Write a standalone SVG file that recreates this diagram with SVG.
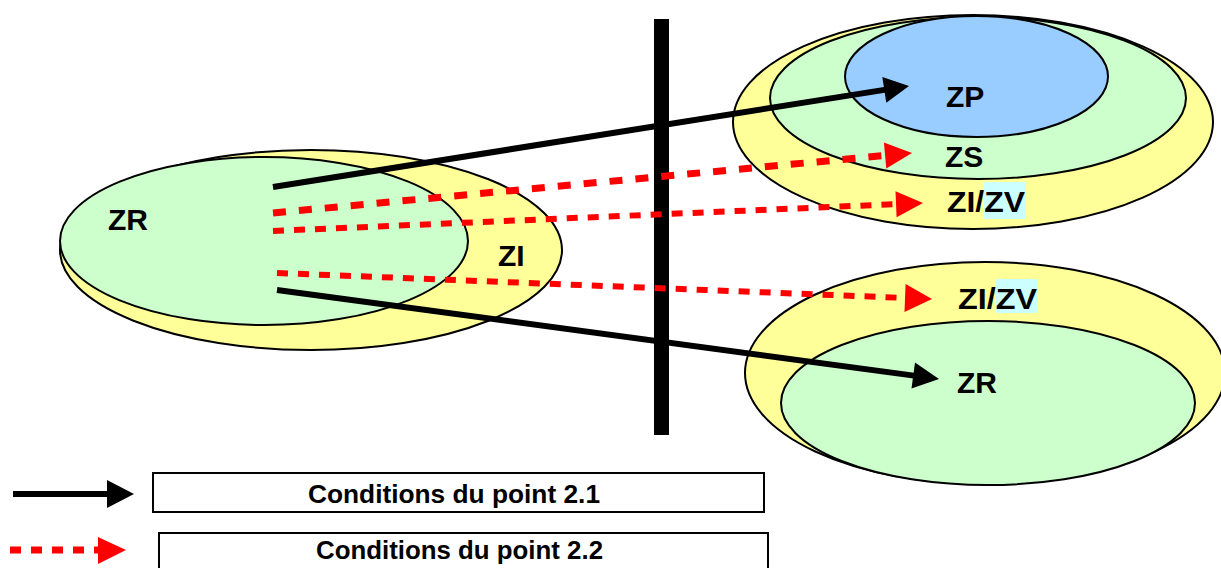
<svg xmlns="http://www.w3.org/2000/svg" width="1221" height="568" viewBox="0 0 1221 568">
<style>
.zone{stroke:#000;stroke-width:2}
.y{fill:#FFFF99}
.g{fill:#CCFFCC}
.b{fill:#99CCFF}
.lbl{font-family:"Liberation Sans",Arial,sans-serif;font-weight:bold;font-size:30px;fill:#000}
.leg{font-family:"Liberation Sans",Arial,sans-serif;font-weight:bold;font-size:25px;fill:#000}
.solid{stroke:#000;stroke-width:6;fill:none}
.dashA{stroke:#FF0000;stroke-width:7;stroke-dasharray:13 13;fill:none}
.dashB{stroke:#FF0000;stroke-width:6;stroke-dasharray:11 10;fill:none}
.hk{fill:#000}
.hr{fill:#FF0000}
.box{fill:#fff;stroke:#000;stroke-width:2}
</style>
<rect width="1221" height="568" fill="#fff"/>

<g id="left-zone">
<ellipse class="zone y" cx="311" cy="250" rx="251" ry="100"/>
<ellipse class="zone g" cx="264" cy="241" rx="204" ry="84"/>
<text class="lbl" x="108" y="230">ZR</text>
<text class="lbl" x="498" y="266">ZI</text>
</g>

<g id="top-right-zone">
<ellipse class="zone y" cx="973" cy="122" rx="240" ry="107"/>
<ellipse class="zone g" cx="978" cy="98" rx="208" ry="81"/>
<ellipse class="zone b" cx="976.5" cy="76.5" rx="131.5" ry="60.5"/>
<text class="lbl" x="946" y="107">ZP</text>
<text class="lbl" x="945" y="167">ZS</text>
<rect x="984" y="182" width="42" height="37" fill="#CCFFFF"/>
<text class="lbl" x="947" y="212" textLength="78" lengthAdjust="spacingAndGlyphs">ZI/ZV</text>
</g>

<g id="bottom-right-zone">
<ellipse class="zone y" cx="985" cy="373" rx="240" ry="111"/>
<ellipse class="zone g" cx="988" cy="403" rx="207" ry="82"/>
<rect x="996" y="279" width="41" height="34" fill="#CCFFFF"/>
<text class="lbl" x="958" y="309" textLength="79" lengthAdjust="spacingAndGlyphs">ZI/ZV</text>
<text class="lbl" x="957" y="393">ZR</text>
</g>

<g id="border">
<rect x="654" y="19" width="15" height="416" fill="#000"/>
</g>

<g id="connectors">
<line class="solid" x1="273" y1="187" x2="886" y2="89.6"/>
<polygon class="hk" points="909,86 886.3,102.7 882.3,77.1"/>
<line class="dashA" x1="273" y1="213" x2="886" y2="155.4"/>
<polygon class="hr" points="912,153 886.3,168.4 883.9,142.6"/>
<line class="dashB" x1="273" y1="231" x2="897" y2="204.1"/>
<polygon class="hr" points="923,203 896.6,217.2 895.5,191.2"/>
<line class="dashB" x1="277" y1="273" x2="906" y2="298"/>
<polygon class="hr" points="932,299 904.5,311.9 905.6,283.9"/>
<line class="solid" x1="277" y1="290" x2="914" y2="375.6"/>
<polygon class="hk" points="939,379 911.5,388.4 915,362.6"/>
</g>

<g id="legend-2-1">
<line class="solid" x1="13" y1="494" x2="108" y2="494"/>
<polygon class="hk" points="134,494 107,480 107,508"/>
<rect class="box" x="153" y="473" width="611" height="39"/>
<text class="leg" x="308" y="503" textLength="292" lengthAdjust="spacingAndGlyphs">Conditions du point 2.1</text>
</g>

<g id="legend-2-2">
<line x1="10" y1="550" x2="98" y2="550" stroke="#FF0000" stroke-width="7" stroke-dasharray="11 10"/>
<polygon class="hr" points="126,550 98,537 98,564"/>
<rect class="box" x="159" y="533" width="609" height="42"/>
<text class="leg" x="316" y="559" textLength="287" lengthAdjust="spacingAndGlyphs">Conditions du point 2.2</text>
</g>
</svg>
